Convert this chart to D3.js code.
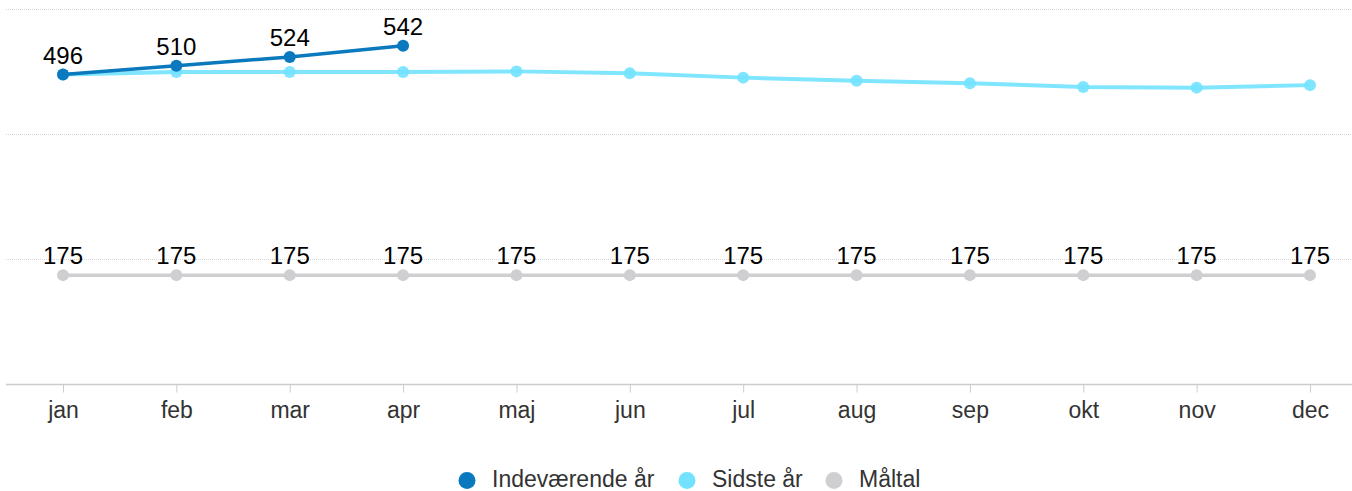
<!DOCTYPE html>
<html>
<head>
<meta charset="utf-8">
<script src="https://cdn.jsdelivr.net/npm/d3@7"></script>
<style>
  body { margin: 0; background: #fff; }
  svg text { font-family: "Liberation Sans", Arial, sans-serif; }
</style>
</head>
<body>
<div id="chart"></div>
<script>
// data
var months = ['jan', 'feb', 'mar', 'apr', 'maj', 'jun', 'jul', 'aug', 'sep', 'okt', 'nov', 'dec'];
var currentYear = [496, 510, 524, 542];
var lastYear = [496, 500, 500, 500, 501, 498, 491, 486, 482, 476, 475, 479];
var target = [175, 175, 175, 175, 175, 175, 175, 175, 175, 175, 175, 175];
var yTicks = [0, 200, 400, 600];

var seriesNames = ['Indeværende år', 'Sidste år', 'Måltal'];
var seriesColors = ['#0a79bd', '#72e2ff', '#cfcfd1'];

var width = 1352, height = 491;
var margin = {top: 10, right: 0, bottom: 106, left: 6};

var svg = d3.select('#chart')
  .append('svg')
  .attr('width', width)
  .attr('height', height);

var x = d3.scalePoint()
  .domain(months)
  .range([63, 1310]);

var y = d3.scaleLinear()
  .domain([0, 600])
  .range([height - margin.bottom - 0.5, margin.top - 0.5]);

// gridlines
svg.append('g')
  .selectAll('line')
  .data(yTicks.slice(1))
  .enter().append('line')
    .attr('x1', margin.left)
    .attr('x2', width)
    .attr('y1', d => y(d))
    .attr('y2', d => y(d))
    .style('stroke', '#d6d6d6')
    .style('stroke-width', 1)
    .style('stroke-dasharray', '1,1');

// x axis
var xAxis = svg.append('g')
  .attr('transform', 'translate(0,' + y(0) + ')')
  .call(d3.axisBottom(x).tickSize(8).tickPadding(9).tickSizeOuter(0));
xAxis.select('.domain').remove();
xAxis.append('line')
  .attr('x1', margin.left)
  .attr('x2', width)
  .style('stroke', '#cccccc')
  .style('stroke-width', 1.5);
xAxis.selectAll('.tick line').style('stroke', '#cccccc');
xAxis.selectAll('.tick text')
  .style('font-size', '23px')
  .style('fill', '#333');

var line = d3.line()
  .x((d, i) => x(months[i]))
  .y(d => y(d));

function drawSeries(values, color, strokeW, opacity, withLabels) {
  var g = svg.append('g');
  g.append('path')
    .datum(values)
    .attr('d', line)
    .style('fill', 'none')
    .style('stroke', color)
    .style('stroke-width', strokeW)
    .style('opacity', opacity);
  g.selectAll('circle')
    .data(values)
    .enter().append('circle')
      .attr('cx', (d, i) => x(months[i]))
      .attr('cy', d => y(d))
      .attr('r', 6)
      .style('fill', color)
      .style('opacity', opacity);
  if (withLabels) {
    g.selectAll('text')
      .data(values)
      .enter().append('text')
        .attr('x', (d, i) => x(months[i]))
        .attr('y', d => y(d) - 11)
        .attr('text-anchor', 'middle')
        .style('font-size', '24px')
        .style('fill', '#000')
        .text(d => d);
  }
}

drawSeries(target, seriesColors[2], 3.5, 1, true);
drawSeries(lastYear, seriesColors[1], 4, 0.9, false);
drawSeries(currentYear, seriesColors[0], 3.5, 1, true);

// legend
var legendX = [467, 687, 834];
var legend = svg.append('g');
seriesNames.forEach(function(name, i) {
  legend.append('circle')
    .attr('cx', legendX[i])
    .attr('cy', 480.5)
    .attr('r', 8.5)
    .style('fill', seriesColors[i]);
  legend.append('text')
    .attr('x', legendX[i] + 25)
    .attr('y', 487)
    .style('font-size', '23px')
    .style('fill', '#333')
    .text(name);
});
</script>
</body>
</html>
